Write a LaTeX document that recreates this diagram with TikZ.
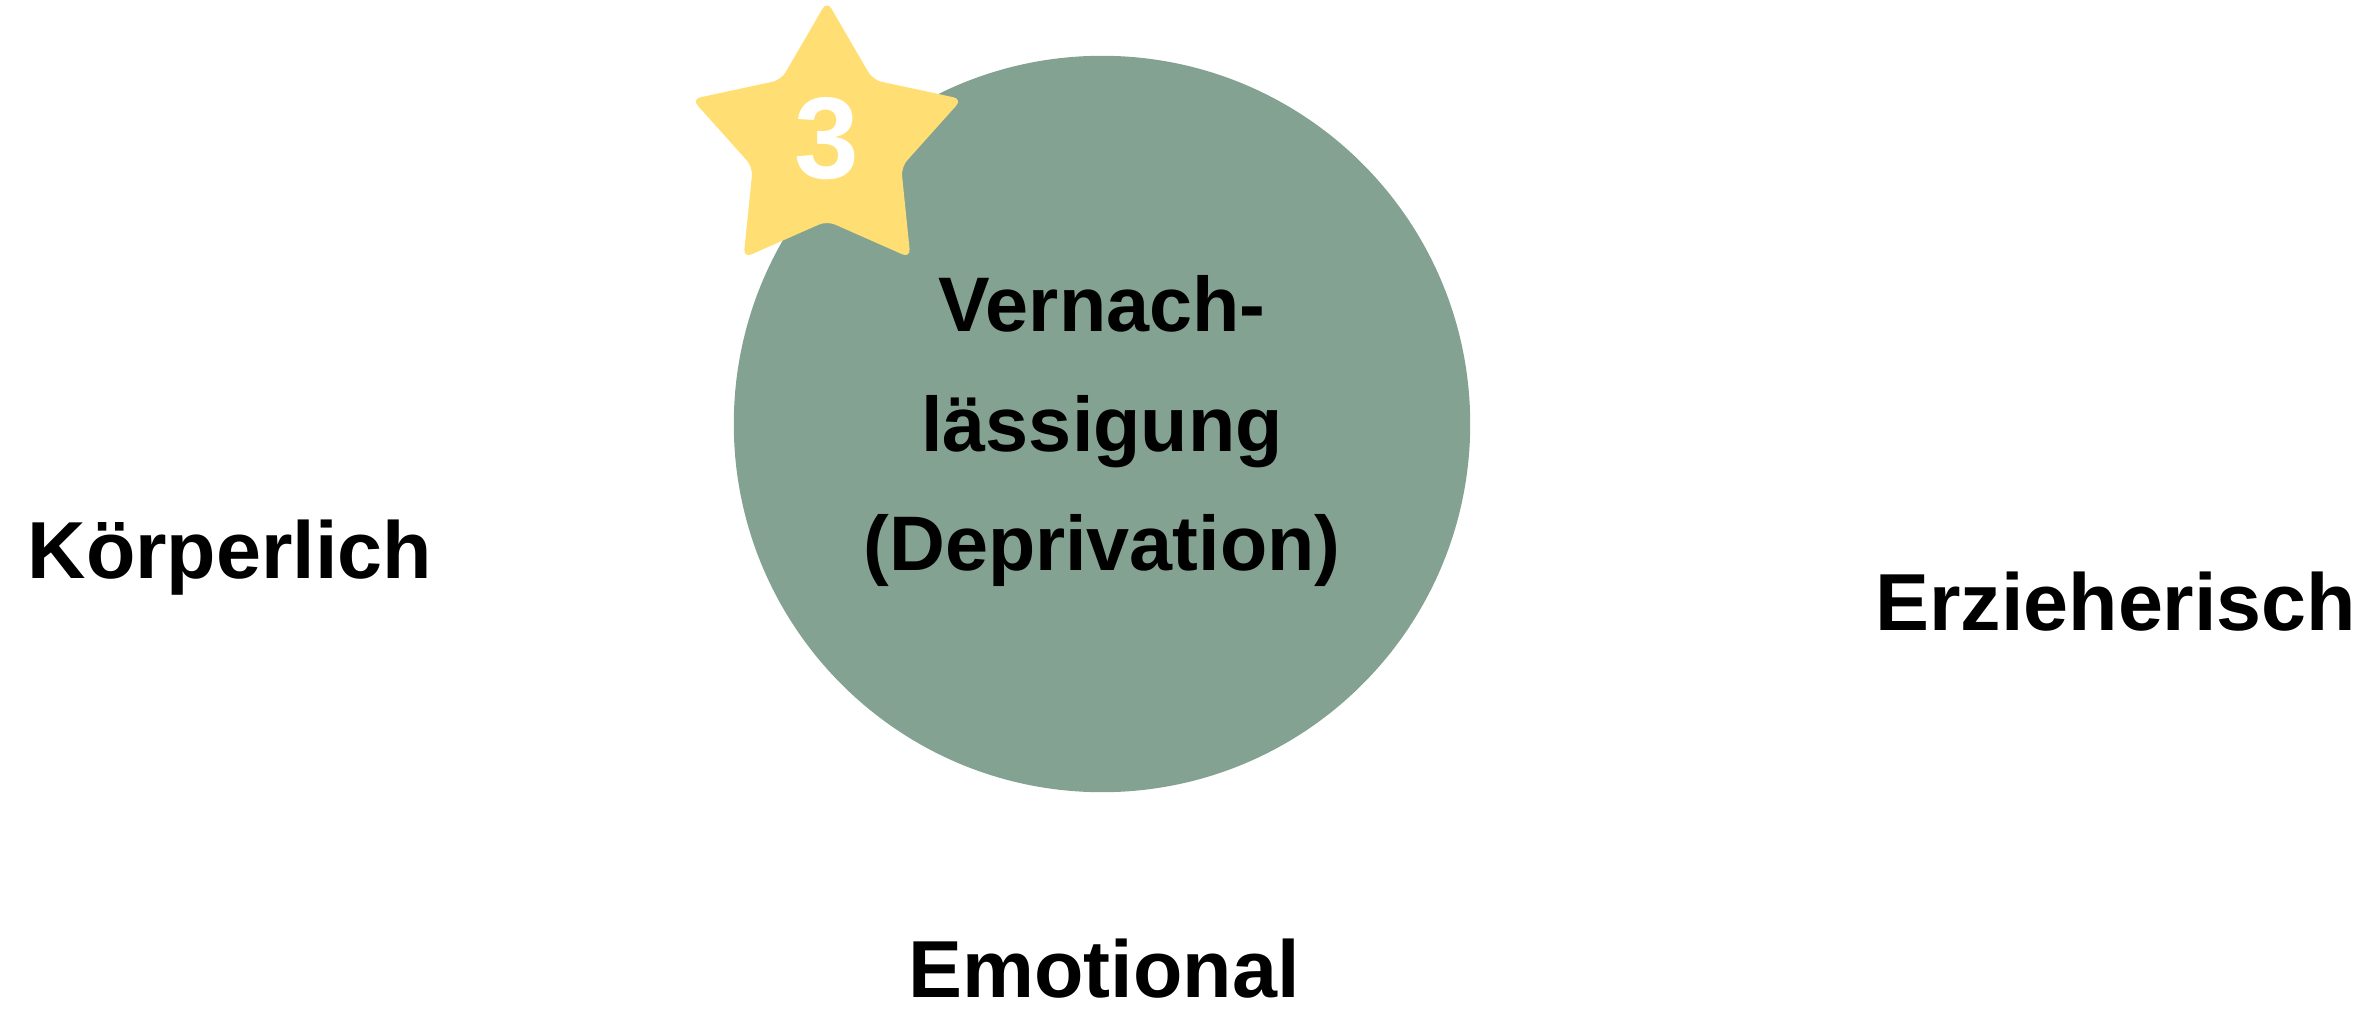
\documentclass[tikz,border=0pt]{standalone}
\usepackage{fontspec}
\setmainfont{Liberation Sans}
\usepackage{xcolor}
\definecolor{deprgreen}{HTML}{84A291}
\definecolor{staryellow}{HTML}{FFDF73}

\begin{document}
\begin{tikzpicture}[x=0.01cm, y=-0.01cm,
  formlabel/.style={font=\fontsize{23}{28}\selectfont\bfseries, inner sep=0pt}]
  \useasboundingbox (0,0) rectangle (2374,1012);

  % Centre circle
  \node[circle, fill=deprgreen, minimum size=7.36cm, inner sep=0pt] (depr) at (1102,424) {};
  \node[align=center, font=\fontsize{22}{34}\selectfont\bfseries] (deprtext) at (1102,431)
    {Vernach-\\lässigung\\(Deprivation)};

  % Star badge
  \fill[staryellow, rounded corners=2.5pt, shift={(827,143)}]
    (-90:142) -- (-54:78) -- (-18:142) -- (18:78) -- (54:142)
    -- (90:78) -- (126:142) -- (162:78) -- (198:142) -- (234:78) -- cycle;
  \node[font=\fontsize{33}{40}\selectfont\bfseries, white] (num) at (827,139) {3};

  % Other forms
  \node[formlabel, anchor=base west] (koerper) at (27,578) {Körperlich};
  \node[formlabel, anchor=base east] (erzieh) at (2357,630) {Erzieherisch};
  \node[formlabel, anchor=base] (emot) at (1104,997) {Emotional};
\end{tikzpicture}
\end{document}
